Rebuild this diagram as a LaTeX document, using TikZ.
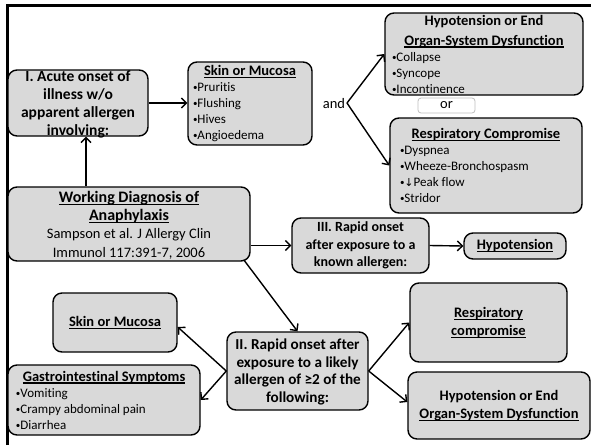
\documentclass[tikz,border=0pt]{standalone}
\usepackage{fontspec}
\setmainfont{Carlito}[Ligatures=NoCommon]
\newfontfamily\dvsans{DejaVu Sans}
\usetikzlibrary{arrows.meta,calc}
\definecolor{boxgrey}{HTML}{D9D9D9}
\definecolor{orgrey}{HTML}{BFBFBF}
\newcommand\bfbig{\fontsize{14.5}{18}\selectfont\bfseries}
\newcommand\ttl{\fontsize{14.5}{20}\selectfont\bfseries}
\newcommand\bul{\fontsize{13}{16}\selectfont\mdseries}
\newcommand\rg{\fontsize{14.5}{18}\selectfont\mdseries}
\newcommand\bt{\raisebox{1pt}{\fontsize{9}{9}\selectfont\textbullet}}
\newcommand\myul[1]{\leavevmode\setbox0\hbox{#1}\rlap{\rule[-2.6pt]{\wd0}{1.2pt}}\box0}
\begin{document}
\begin{tikzpicture}[x=1pt,y=-1pt,
  box/.style={draw=black, line width=1.4pt, rounded corners=9pt, fill=boxgrey, inner sep=0pt},
  txt/.style={inner sep=0pt, align=center, font=\bfbig},
  conn/.style={line width=1.4pt, -{Straight Barb[length=5pt,width=10pt]}},
  frame/.style={line width=3pt},
  orbox/.style={draw=orgrey, line width=0.8pt, rounded corners=3pt, fill=white, inner sep=0pt}]
\useasboundingbox (0,0) rectangle (591,445);
% frame
\coordinate (fbl) at (7.5,445);
\coordinate (ftl) at (7.5,5);
\coordinate (ftr) at (591,5);
\draw[frame] (fbl) -- (ftl) -- (ftr);

% boxes
\node[box, minimum width=140pt, minimum height=66pt] (acute) at (78,103) {};
\node[txt, font=\fontsize{15.5}{18}\selectfont\bfseries] (acute-t) at ([yshift=-1.5pt]acute.center) {I. Acute onset of\\illness w/o\\apparent allergen\\involving:};

\node[box, minimum width=124pt, minimum height=83pt] (skin1) at (250,103.5) {};
\node[txt] (skin1-t) at (skin1) {\parbox{114pt}{\centering\ttl\myul{Skin or Mucosa}\par\raggedright\bul
 \bt Pruritis\\\bt Flushing\\\bt Hives\\\bt Angioedema}};

\node[box, minimum width=198pt, minimum height=82pt] (hypo1) at (484,54) {};
\node[txt] (hypo1-t) at (hypo1) {\parbox{184pt}{\centering\ttl Hypotension or End\\\myul{Organ-System Dysfunction}\par\raggedright\bul
 \bt Collapse\\\bt Syncope\\\bt Incontinence}};

\node[orbox, minimum width=57pt, minimum height=15pt] (orb) at (446.5,105.5) {};
\node[txt, font=\rg] (or-t) at (orb) {or};

\node[box, minimum width=192pt, minimum height=95pt] (resp1) at (486,165.5) {};
\node[txt] (resp1-t) at (resp1) {\parbox{172pt}{\centering\ttl\myul{Respiratory Compromise}\par\raggedright\bul
 \bt Dyspnea\\\bt Wheeze-Bronchospasm\\\bt{\dvsans\fontsize{11}{16}\selectfont↓}Peak flow\\\bt Stridor}};

\node[txt, font=\rg] (and) at (334,104) {and};
\coordinate (andv) at (347,103);

\node[box, minimum width=242pt, minimum height=74pt] (wd) at (129,224) {};
\node[txt] (wd-t) at ([yshift=-1pt]wd.center) {\parbox{240pt}{\centering\fontsize{16}{18.3}\selectfont\bfseries\myul{Working Diagnosis of}\\\myul{Anaphylaxis}\par\fontsize{14.5}{18.3}\selectfont\mdseries
 Sampson et al. J Allergy Clin\\Immunol 117:391-7, 2006}};

\node[box, minimum width=137pt, minimum height=55pt] (boxIII) at (360.5,245.5) {};
\node[txt, font=\fontsize{14}{17.5}\selectfont\bfseries] (boxIII-t) at (boxIII) {III. Rapid onset\\after exposure to a\\known allergen:};

\node[box, minimum width=102pt, minimum height=26pt] (hypo2) at (515,246) {};
\node[txt] (hypo2-t) at (hypo2) {\myul{Hypotension}};

\node[box, minimum width=141pt, minimum height=78pt] (boxII) at (297.5,371) {};
\node[txt, font=\fontsize{15.2}{17.6}\selectfont\bfseries] (boxII-t) at ([yshift=-1pt]boxII.center) {II. Rapid onset after\\exposure to a likely\\allergen of ≥2 of the\\following:};

\node[box, minimum width=124pt, minimum height=59pt] (skin2) at (115,322.5) {};
\node[txt] (skin2-t) at (skin2) {\myul{Skin or Mucosa}};

\node[box, minimum width=192pt, minimum height=70pt] (gi) at (104,400) {};
\node[txt] (gi-t) at (gi) {\parbox{176pt}{\centering\ttl\myul{Gastrointestinal Symptoms}\par\raggedright\bul
 \bt Vomiting\\\bt Crampy abdominal pain\\\bt Diarrhea}};

\node[box, minimum width=157pt, minimum height=79pt] (resp2) at (488.5,322.5) {};
\node[txt] (resp2-t) at (resp2) {\myul{Respiratory}\\\myul{compromise}};

\node[box, minimum width=182pt, minimum height=67pt] (hypo3) at (499,405.5) {};
\node[txt] (hypo3-t) at (hypo3) {Hypotension or End\\\myul{Organ-System Dysfunction}};

% connectors
\draw[conn] (acute.east) -- (acute.east -| skin1.west);
\draw[conn] (andv) -- (hypo1.west);
\draw[conn] (andv) -- (resp1.west);
\draw[conn] ([xshift=-43pt]wd.north) -- ([xshift=8pt]acute.south);
\draw[conn] (wd.east |- boxIII.west) -- (boxIII.west);
\draw[conn] (boxIII.east) -- (hypo2.west);
\draw[conn] ([xshift=-7pt,yshift=2pt]wd.south east) -- (boxII.north);
\draw[conn] (boxII.west) -- ([yshift=-4.5pt]skin2.east);
\draw[conn] (boxII.west) -- (gi.east);
\draw[conn] (boxII.east) -- (resp2.west);
\draw[conn] (boxII.east) -- ([yshift=3.5pt]hypo3.west);
\end{tikzpicture}
\end{document}
